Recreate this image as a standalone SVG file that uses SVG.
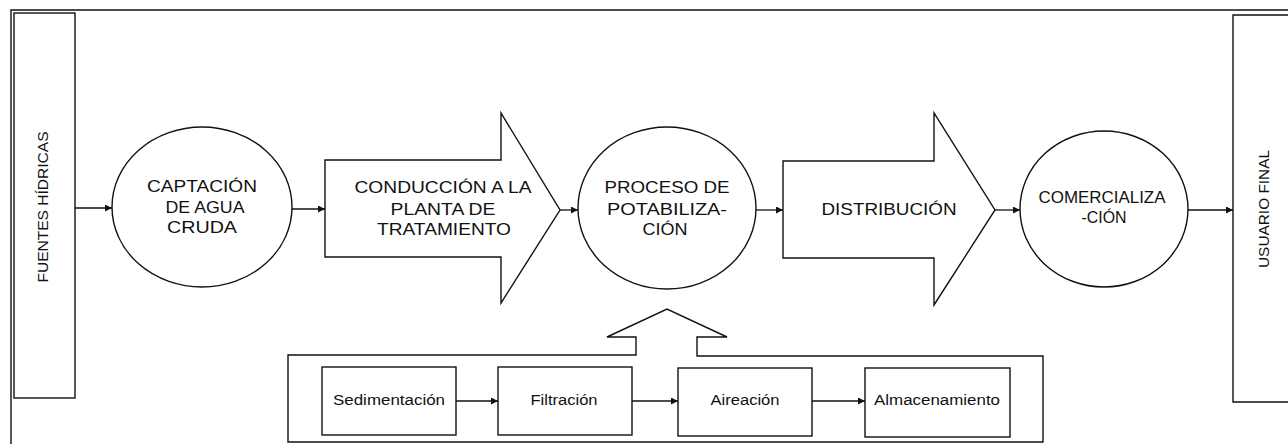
<svg xmlns="http://www.w3.org/2000/svg" width="1288" height="444" viewBox="0 0 1288 444">
<defs>
<marker id="ah" viewBox="0 0 10 10" refX="10" refY="5" markerWidth="7" markerHeight="7" markerUnits="userSpaceOnUse" orient="auto">
<path d="M0,0 L10,5 L0,10 z" fill="#111"/>
</marker>
<style>
.s{fill:#fff;stroke:#111;stroke-width:1.4}
.f{fill:none;stroke:#111;stroke-width:1.4}
.c{fill:none;stroke:#111;stroke-width:1.3;marker-end:url(#ah)}
.t{font-family:"Liberation Sans",Arial,sans-serif;font-size:17px;fill:#111;text-anchor:middle}
.b{font-family:"Liberation Sans",Arial,sans-serif;font-size:14px;fill:#111;text-anchor:middle}
.v{font-family:"Liberation Sans",Arial,sans-serif;font-size:15px;fill:#111;text-anchor:middle}
</style>
</defs>
<rect width="1288" height="444" fill="#fff"/>
<g id="frame">
<path class="f" d="M11,445 L11,10 L1290,10"/>
</g>
<g id="fuentes">
<rect class="s" x="14" y="13" width="61" height="385"/>
<text class="v" transform="translate(48,207) rotate(-90)" textLength="151" lengthAdjust="spacingAndGlyphs">FUENTES HÍDRICAS</text>
</g>
<g id="captacion">
<ellipse class="s" cx="202" cy="207" rx="90" ry="80"/>
<text class="t" x="202" y="192" textLength="110" lengthAdjust="spacingAndGlyphs">CAPTACIÓN</text>
<text class="t" x="205" y="213" textLength="79" lengthAdjust="spacingAndGlyphs">DE AGUA</text>
<text class="t" x="202" y="233" textLength="70" lengthAdjust="spacingAndGlyphs">CRUDA</text>
</g>
<g id="conduccion">
<path class="s" d="M325,160 L501,160 L501,113 L560,210 L501,303 L501,257 L325,257 Z"/>
<text class="t" x="443" y="193" textLength="177" lengthAdjust="spacingAndGlyphs">CONDUCCIÓN A LA</text>
<text class="t" x="443" y="215" textLength="105" lengthAdjust="spacingAndGlyphs">PLANTA DE</text>
<text class="t" x="444" y="235" textLength="134" lengthAdjust="spacingAndGlyphs">TRATAMIENTO</text>
</g>
<g id="proceso">
<ellipse class="s" cx="667" cy="208" rx="89" ry="81"/>
<text class="t" x="667" y="193" textLength="125" lengthAdjust="spacingAndGlyphs">PROCESO DE</text>
<text class="t" x="667" y="215" textLength="120" lengthAdjust="spacingAndGlyphs">POTABILIZA-</text>
<text class="t" x="665" y="235" textLength="45" lengthAdjust="spacingAndGlyphs">CIÓN</text>
</g>
<g id="distribucion">
<path class="s" d="M783,161 L934,161 L934,113 L995,210 L934,305 L934,258 L783,258 Z"/>
<text class="t" x="889" y="215" textLength="135" lengthAdjust="spacingAndGlyphs">DISTRIBUCIÓN</text>
</g>
<g id="comercializacion">
<ellipse class="s" cx="1104" cy="209" rx="84" ry="78"/>
<text class="t" x="1102" y="203" textLength="127" lengthAdjust="spacingAndGlyphs">COMERCIALIZA</text>
<text class="t" x="1104" y="223" textLength="45" lengthAdjust="spacingAndGlyphs">-CIÓN</text>
</g>
<g id="usuario">
<path class="s" d="M1290,15 L1233,15 L1233,402 L1290,402"/>
<text class="v" transform="translate(1269,209) rotate(-90)" textLength="118" lengthAdjust="spacingAndGlyphs">USUARIO FINAL</text>
</g>
<g id="subproceso">
<path class="f" d="M288,442 L288,355 L636,355 L636,337 L607,337 L667,309 L727,337 L697,337 L697,356 L1043,356 L1043,442 Z"/>
</g>
<g id="sedimentacion">
<rect class="s" x="322" y="367" width="134" height="68"/>
<text class="b" x="389" y="405" textLength="112" lengthAdjust="spacingAndGlyphs">Sedimentación</text>
</g>
<g id="filtracion">
<rect class="s" x="498" y="367" width="134" height="68"/>
<text class="b" x="564" y="405" textLength="67" lengthAdjust="spacingAndGlyphs">Filtración</text>
</g>
<g id="aireacion">
<rect class="s" x="678" y="368" width="134" height="68"/>
<text class="b" x="745" y="405" textLength="69" lengthAdjust="spacingAndGlyphs">Aireación</text>
</g>
<g id="almacenamiento">
<rect class="s" x="865" y="368" width="145" height="69"/>
<text class="b" x="937" y="405" textLength="126" lengthAdjust="spacingAndGlyphs">Almacenamiento</text>
</g>
<g id="connectors">
<line class="c" x1="75" y1="208" x2="112" y2="208"/>
<line class="c" x1="292" y1="209" x2="325" y2="209"/>
<line class="c" x1="560" y1="210" x2="578" y2="210"/>
<line class="c" x1="756" y1="210" x2="783" y2="210"/>
<line class="c" x1="995" y1="210" x2="1020" y2="210"/>
<line class="c" x1="1188" y1="210" x2="1233" y2="210"/>
<line class="c" x1="456" y1="401" x2="498" y2="401"/>
<line class="c" x1="632" y1="401" x2="678" y2="401"/>
<line class="c" x1="812" y1="401" x2="865" y2="401"/>
</g>
</svg>
